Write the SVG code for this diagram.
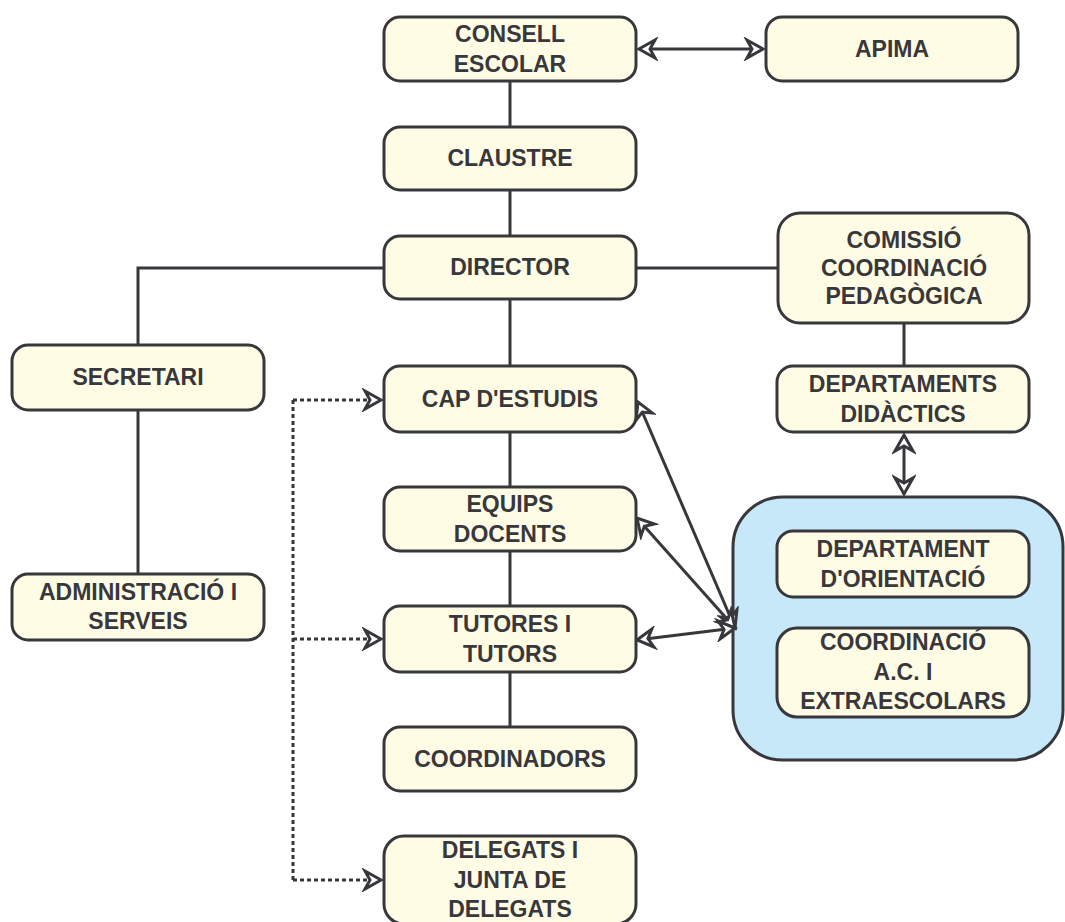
<svg xmlns="http://www.w3.org/2000/svg" width="1065" height="922" viewBox="0 0 1065 922">
<style>
.node rect{fill:#fffce5;stroke:#38383c;stroke-width:3}
.cont{fill:#c6e8f8;stroke:#38383c;stroke-width:3}
text{font-family:"Liberation Sans",Arial,sans-serif;font-weight:bold;font-size:23px;fill:#38383c;text-anchor:middle}
.c{fill:none;stroke:#38383c;stroke-width:3}
.d{fill:none;stroke:#38383c;stroke-width:3;stroke-dasharray:4 3}
.a{marker-start:url(#ah);marker-end:url(#ah)}
.e{marker-end:url(#ah)}
</style>
<defs>
<marker id="ah" markerUnits="userSpaceOnUse" viewBox="-20 -12 24 24" refX="0" refY="0" markerWidth="24" markerHeight="24" orient="auto-start-reverse">
<path d="M-16,-9 L0,0 L-16,9 L-11,0 Z" fill="#ffffff" stroke="#38383c" stroke-width="3" stroke-linejoin="miter"/>
</marker>
</defs>
<rect id="container" class="cont" x="733" y="497" width="330" height="263" rx="50" ry="50"/>
<g id="connectors">
<path class="c" d="M510,81 V127 M510,190 V236 M510,299 V366 M510,432 V487 M510,551 V606 M510,672 V727"/>
<path class="c" d="M384,268 H138 V345 M138,410 V574 M636,268 H778 M904,323 V366"/>
<path class="c a" d="M639,49 H763"/>
<path class="c a" d="M904,435 V494"/>
<path class="c a" d="M638,402 L735,628"/>
<path class="c a" d="M637,518 L735,628"/>
<path class="c a" d="M637,640 L735,628"/>
<path class="d" d="M293,400 V880"/>
<path class="d e" d="M293,400 H381"/>
<path class="d e" d="M293,639 H381"/>
<path class="d e" d="M293,880 H381"/>
</g>
<g id="consell" class="node"><rect x="384" y="17" width="252" height="64" rx="16"/><text x="510" y="42">CONSELL</text><text x="510" y="72">ESCOLAR</text></g>
<g id="apima" class="node"><rect x="766" y="17" width="252" height="64" rx="16"/><text x="892" y="57">APIMA</text></g>
<g id="claustre" class="node"><rect x="384" y="127" width="252" height="63" rx="16"/><text x="510" y="166">CLAUSTRE</text></g>
<g id="director" class="node"><rect x="384" y="236" width="252" height="63" rx="16"/><text x="510" y="275">DIRECTOR</text></g>
<g id="comissio" class="node"><rect x="778" y="213" width="251" height="110" rx="22"/><text x="904" y="248">COMISSIÓ</text><text x="904" y="276">COORDINACIÓ</text><text x="904" y="304">PEDAGÒGICA</text></g>
<g id="secretari" class="node"><rect x="12" y="345" width="252" height="65" rx="16"/><text x="138" y="385">SECRETARI</text></g>
<g id="administracio" class="node"><rect x="12" y="574" width="252" height="66" rx="16"/><text x="138" y="600">ADMINISTRACIÓ I</text><text x="138" y="629">SERVEIS</text></g>
<g id="capestudis" class="node"><rect x="384" y="366" width="252" height="66" rx="16"/><text x="510" y="407">CAP D'ESTUDIS</text></g>
<g id="equips" class="node"><rect x="384" y="487" width="252" height="64" rx="16"/><text x="510" y="512">EQUIPS</text><text x="510" y="542">DOCENTS</text></g>
<g id="tutores" class="node"><rect x="384" y="606" width="252" height="66" rx="16"/><text x="510" y="632">TUTORES I</text><text x="510" y="662">TUTORS</text></g>
<g id="coordinadors" class="node"><rect x="384" y="727" width="252" height="64" rx="16"/><text x="510" y="767">COORDINADORS</text></g>
<g id="delegats" class="node"><rect x="384" y="836" width="252" height="88" rx="20"/><text x="510" y="858">DELEGATS I</text><text x="510" y="888">JUNTA DE</text><text x="510" y="917">DELEGATS</text></g>
<g id="departaments" class="node"><rect x="777" y="366" width="252" height="66" rx="16"/><text x="903" y="392">DEPARTAMENTS</text><text x="903" y="422">DIDÀCTICS</text></g>
<g id="orientacio" class="node"><rect x="777" y="531" width="252" height="66" rx="16"/><text x="903" y="557">DEPARTAMENT</text><text x="903" y="587">D'ORIENTACIÓ</text></g>
<g id="coordinacioac" class="node"><rect x="777" y="628" width="252" height="89" rx="20"/><text x="903" y="650">COORDINACIÓ</text><text x="903" y="680">A.C. I</text><text x="903" y="709">EXTRAESCOLARS</text></g>
</svg>
